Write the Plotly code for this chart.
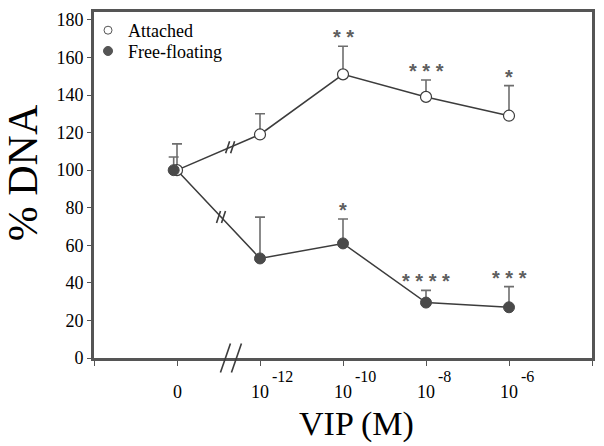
import plotly.graph_objects as go

# ---- data ----
x_labels_base = ["0", "10", "10", "10", "10"]
x_labels_exp = ["", "-12", "-10", "-8", "-6"]
x_pos = [1, 2, 3, 4, 5]

attached = [100, 119, 151, 139, 129]
attached_err = [14, 11, 15, 9, 16]
attached_stars = ["", "", "* *", "* * *", "*"]

floating = [100, 53, 61, 29.5, 27]
floating_err = [7, 22, 13, 6.5, 11]
floating_stars = ["", "", "*", "* * * *", "* * *"]

y_ticks = [0, 20, 40, 60, 80, 100, 120, 140, 160, 180]

SERIF = "Liberation Serif"
LINE = "#3c3c3c"
GREY = "#6e6e6e"

fig = go.Figure()

# lines
fig.add_trace(go.Scatter(x=x_pos, y=attached, mode="lines", line=dict(color=LINE, width=1.5),
                         showlegend=False, hoverinfo="skip"))
fig.add_trace(go.Scatter(x=x_pos, y=floating, mode="lines", line=dict(color=LINE, width=1.5),
                         showlegend=False, hoverinfo="skip"))

open_marker = dict(symbol="circle", size=11, color="white", line=dict(color=LINE, width=1.2))
fill_marker = dict(symbol="circle", size=11, color="#4a4a4a", line=dict(color="#4a4a4a", width=1))

# markers with one-sided error bars
fig.add_trace(go.Scatter(
    x=x_pos, y=attached, mode="markers", name="Attached", showlegend=False,
    marker=open_marker,
    error_y=dict(type="data", array=attached_err, arrayminus=[0] * 5, symmetric=False,
                 color=GREY, thickness=1.6, width=5),
))
fig.add_trace(go.Scatter(
    x=[v - 0.04 if i == 0 else v for i, v in enumerate(x_pos)], y=floating, mode="markers",
    name="Free-floating", showlegend=False,
    marker=fill_marker,
    error_y=dict(type="data", array=floating_err, arrayminus=[0] * 5, symmetric=False,
                 color=GREY, thickness=1.6, width=5),
))

# legend entries (smaller symbols, as in the original key)
fig.add_trace(go.Scatter(x=[None], y=[None], mode="markers", name="Attached", legend="legend",
                         marker=dict(symbol="circle", size=8, color="white",
                                     line=dict(color="#555", width=1))))
fig.add_trace(go.Scatter(x=[None], y=[None], mode="markers", name="Free-floating", legend="legend2",
                         marker=dict(symbol="circle", size=9, color="#555",
                                     line=dict(color="#555", width=1))))

annotations = []
# significance stars
for xs, ys, es, ss in [(x_pos, attached, attached_err, attached_stars),
                       (x_pos, floating, floating_err, floating_stars)]:
    for xv, yv, ev, sv in zip(xs, ys, es, ss):
        if sv:
            annotations.append(dict(x=xv, y=yv + ev, xref="x", yref="y", text="<b>" + sv + "</b>",
                                    showarrow=False, yanchor="bottom", yshift=-4,
                                    font=dict(family="Liberation Sans", size=20, color="#5e5e5e")))

# x tick labels (base + exponent)
for xv, b, e in zip(x_pos, x_labels_base, x_labels_exp):
    annotations.append(dict(x=xv, y=0, xref="x", yref="paper", text=b, showarrow=False,
                            xanchor="center", yanchor="middle", yshift=-34,
                            font=dict(family=SERIF, size=18, color="black")))
    if e:
        annotations.append(dict(x=xv, y=0, xref="x", yref="paper", text=e, showarrow=False,
                                xanchor="left", yanchor="middle", yshift=-18, xshift=10,
                                font=dict(family=SERIF, size=16, color="black")))

# axis titles
annotations.append(dict(x=0.527, y=0, xref="paper", yref="paper", text="VIP (M)", showarrow=False,
                        xanchor="center", yanchor="middle", yshift=-66,
                        font=dict(family=SERIF, size=34, color="black")))
annotations.append(dict(x=0, y=0.534, xref="paper", yref="paper", text="% DNA", showarrow=False,
                        textangle=-90, xanchor="center", yanchor="middle", xshift=-71,
                        font=dict(family=SERIF, size=42, color="black")))

shapes = []


def slash_pair(xa, ya, yref, h, w, gap, width):
    out = []
    for dx in (-gap / 2, gap / 2):
        out.append(dict(type="line", xref="x", yref=yref, xsizemode="pixel", ysizemode="pixel",
                        xanchor=xa, yanchor=ya, x0=dx - w / 2, x1=dx + w / 2, y0=-h / 2, y1=h / 2,
                        line=dict(color=LINE, width=width)))
    return out


# breaks on the lines between "0" and the first concentration
for series, t in [(attached, 0.64), (floating, 0.53)]:
    bx = x_pos[0] + t * (x_pos[1] - x_pos[0])
    by = series[0] + t * (series[1] - series[0])
    shapes += slash_pair(bx, by, "y", 12, 4, 5, 1.6)

# break on the x axis
shapes += slash_pair(1.65, 0, "paper", 29, 10, 11, 1.6)

legend_style = dict(xanchor="left", yanchor="top", bgcolor="rgba(0,0,0,0)",
                    font=dict(family=SERIF, size=18, color="black"), itemwidth=30)

fig.update_layout(
    width=604, height=446,
    margin=dict(l=94, r=9, t=10, b=88),
    paper_bgcolor="white", plot_bgcolor="white",
    showlegend=True,
    legend=dict(x=-0.012, y=1.0, **legend_style),
    legend2=dict(x=-0.012, y=0.94, **legend_style),
    annotations=annotations,
    shapes=shapes,
)

fig.update_xaxes(range=[0, 6], tickvals=[0, 1, 2, 3, 4, 5, 6], ticktext=[""] * 7,
                 ticks="outside", ticklen=5, tickcolor="#555", tickwidth=1,
                 showline=True, linecolor="#555", linewidth=3, mirror=True,
                 showgrid=False, zeroline=False)
fig.update_yaxes(range=[0, 184.2], tickvals=y_ticks, ticks="outside", ticklen=4,
                 tickcolor="#555", tickwidth=1,
                 showline=True, linecolor="#555", linewidth=3, mirror=True,
                 showgrid=False, zeroline=False,
                 tickfont=dict(family=SERIF, size=18, color="black"))

fig.write_html("out.html", config={"displayModeBar": False},
               post_script="document.body.style.margin='0';")
